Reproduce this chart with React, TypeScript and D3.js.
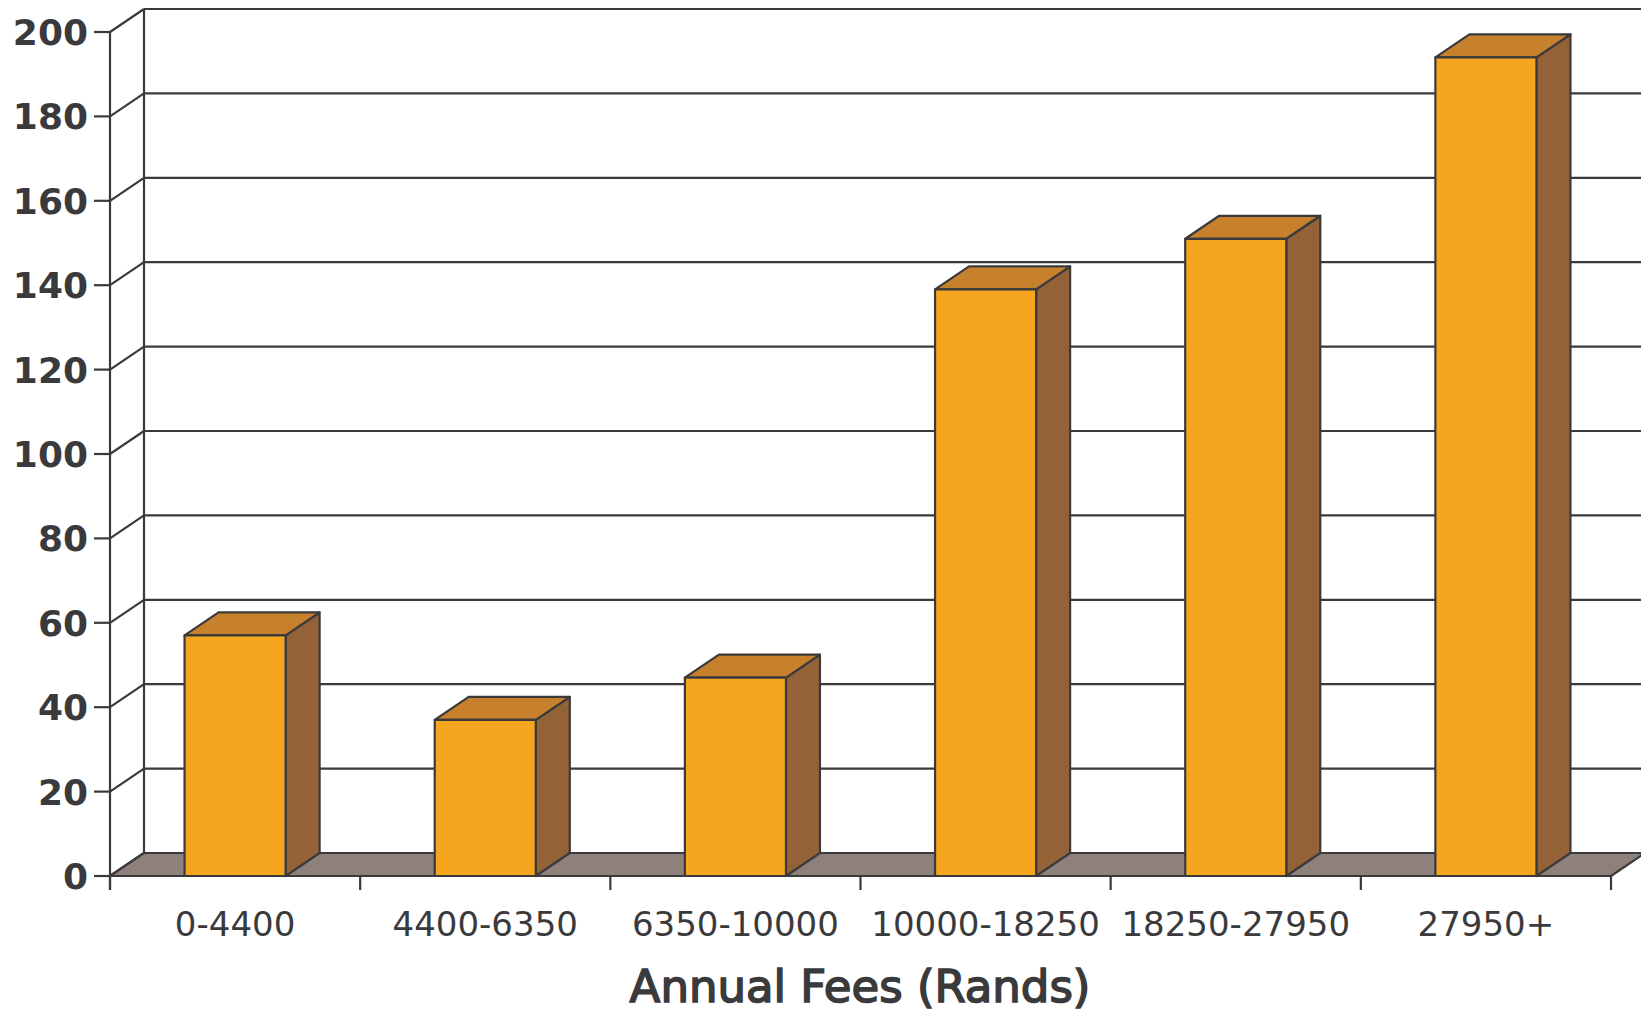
import React from "react";
import * as d3 from "d3";

// Fee bands and counts per band
const categories = ["0-4400", "4400-6350", "6350-10000", "10000-18250", "18250-27950", "27950+"];
const values = [57, 37, 47, 139, 151, 194];
const yTicks = [0, 20, 40, 60, 80, 100, 120, 140, 160, 180, 200];
const xTitle = "Annual Fees (Rands)";

const W = 1641;
const H = 1015;
const INK = "#3a3a3c";
const FRONT = "#f6a61e";
const TOP = "#c7812c";
const SIDE = "#946237";
const FLOOR = "#8e817c";

// oblique depth offset for the 3D look
const DX = 34;
const DY = -23;

export default function App() {
  const y = d3.scaleLinear().domain([0, 200]).range([876, 32]);
  const x = d3
    .scaleBand<string>()
    .domain(categories)
    .range([110, 1611])
    .paddingInner(0.596)
    .paddingOuter(0.298);

  const x0 = 110;
  const x1 = 1611;
  const step = x.step();
  const bw = x.bandwidth();
  const base = y(0);

  const pts = (p: [number, number][]) => p.map((d) => d.join(",")).join(" ");

  return (
    <svg
      width={W}
      height={H}
      viewBox={`0 0 ${W} ${H}`}
      style={{ position: "absolute", left: 0, top: 0, background: "#fff" }}
    >
      {/* back wall gridlines and side-wall diagonals */}
      <g stroke={INK} strokeWidth={2.2} fill="none">
        {yTicks.map((t) => (
          <g key={t}>
            <line x1={x0 + DX} x2={W + 10} y1={y(t) + DY} y2={y(t) + DY} />
            <line x1={x0} y1={y(t)} x2={x0 + DX} y2={y(t) + DY} />
            <line x1={x0 - 16} x2={x0} y1={y(t)} y2={y(t)} />
          </g>
        ))}
        <line x1={x0 + DX} x2={x0 + DX} y1={y(200) + DY} y2={base + DY} />
      </g>

      {/* floor */}
      <polygon
        points={pts([
          [x0, base],
          [x1, base],
          [x1 + DX, base + DY],
          [x0 + DX, base + DY],
        ])}
        fill={FLOOR}
        stroke={INK}
        strokeWidth={2.2}
        strokeLinejoin="round"
      />

      {/* y axis line and category ticks */}
      <g stroke={INK} strokeWidth={2.2}>
        <line x1={x0} x2={x0} y1={y(200)} y2={base + 14} />
        <line x1={x0} x2={x1} y1={base} y2={base} />
        {d3.range(categories.length + 1).map((i) => (
          <line key={i} x1={x0 + i * step} x2={x0 + i * step} y1={base} y2={base + 14} />
        ))}
      </g>

      {/* bars */}
      <g stroke={INK} strokeWidth={2.2} strokeLinejoin="round">
        {categories.map((c, i) => {
          const l = x(c) as number;
          const r = l + bw;
          const t = y(values[i]);
          return (
            <g key={c}>
              <polygon
                points={pts([
                  [r, t],
                  [r + DX, t + DY],
                  [r + DX, base + DY],
                  [r, base],
                ])}
                fill={SIDE}
              />
              <polygon
                points={pts([
                  [l, t],
                  [l + DX, t + DY],
                  [r + DX, t + DY],
                  [r, t],
                ])}
                fill={TOP}
              />
              <rect x={l} y={t} width={bw} height={base - t} fill={FRONT} />
            </g>
          );
        })}
      </g>

      {/* y tick labels */}
      <g
        fill={INK}
        fontFamily="'DejaVu Sans', sans-serif"
        fontWeight="bold"
        fontSize={36}
        textAnchor="end"
      >
        {yTicks.map((t) => (
          <text key={t} x={88} y={y(t)} dy="0.36em">
            {t}
          </text>
        ))}
      </g>

      {/* category labels */}
      <g fill={INK} fontFamily="'DejaVu Sans', sans-serif" fontSize={34} textAnchor="middle">
        {categories.map((c) => (
          <text key={c} x={(x(c) as number) + bw / 2} y={936}>
            {c}
          </text>
        ))}
      </g>

      {/* axis title */}
      <text
        x={860}
        y={1002}
        textAnchor="middle"
        fill={INK}
        stroke={INK}
        strokeWidth={1.6}
        fontFamily="'DejaVu Sans', sans-serif"
        fontSize={45}
      >
        {xTitle}
      </text>
    </svg>
  );
}
